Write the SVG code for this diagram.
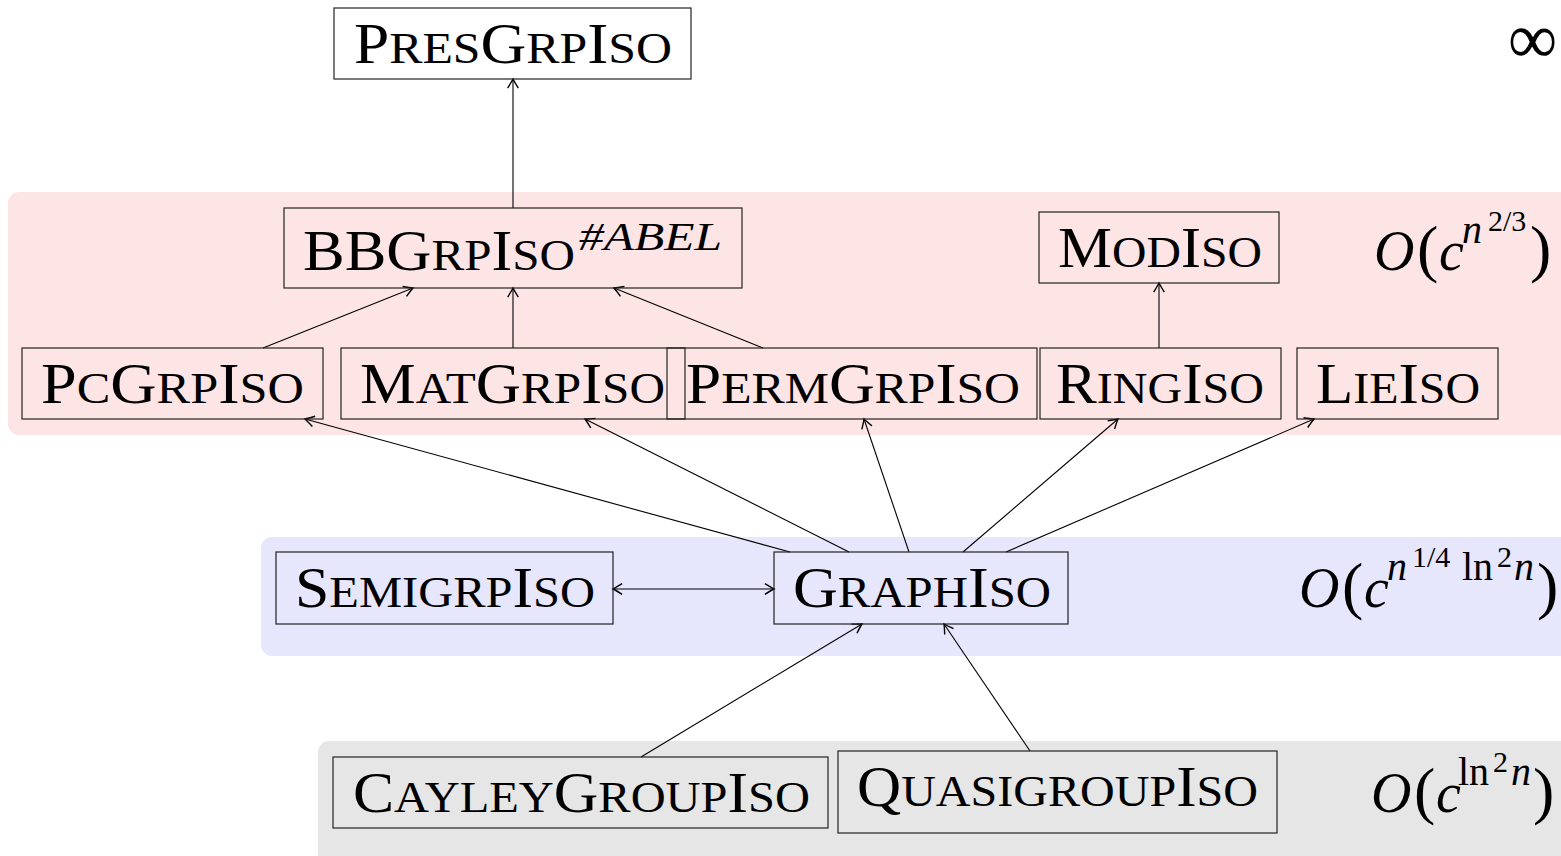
<svg xmlns="http://www.w3.org/2000/svg" width="1561" height="856" viewBox="0 0 1561 856">
<style>
.box{fill:none;stroke:#222;stroke-width:1.2}
.lbl{font-family:"Liberation Serif","DejaVu Serif",serif;font-size:56px;font-variant:small-caps;fill:#000}
.s{font-size:63px}
.m{font-family:"Liberation Serif","DejaVu Serif",serif;fill:#000}
.it{font-style:italic}
.edge{stroke:#000;stroke-width:1.1;fill:none}
</style>
<defs>
<marker id="to" markerUnits="userSpaceOnUse" markerWidth="14" markerHeight="14" viewBox="-8 -5 10 10" refX="0" refY="0" orient="auto-start-reverse">
<path d="M -6.5 -3.8 Q -2 -1 0 0 Q -2 1 -6.5 3.8" fill="none" stroke="#000" stroke-width="1"/>
</marker>
</defs>
<g id="bands">
<rect x="8" y="192" width="1600" height="243" rx="11" fill="#fde5e6"/>
<rect x="261" y="537" width="1400" height="119" rx="11" fill="#e6e6fc"/>
<rect x="318" y="741" width="1400" height="140" rx="11" fill="#e6e6e6"/>
</g>
<g id="connectors">
<line class="edge" x1="513" y1="208" x2="513" y2="79" marker-end="url(#to)"/>
<line class="edge" x1="263" y1="348" x2="413" y2="288" marker-end="url(#to)"/>
<line class="edge" x1="513" y1="348" x2="513" y2="288" marker-end="url(#to)"/>
<line class="edge" x1="763" y1="348" x2="614" y2="288" marker-end="url(#to)"/>
<line class="edge" x1="1159" y1="348" x2="1159" y2="283" marker-end="url(#to)"/>
<line class="edge" x1="790" y1="552" x2="305" y2="419" marker-end="url(#to)"/>
<line class="edge" x1="849" y1="552" x2="585" y2="419" marker-end="url(#to)"/>
<line class="edge" x1="909" y1="552" x2="864" y2="419" marker-end="url(#to)"/>
<line class="edge" x1="963" y1="552" x2="1118" y2="419" marker-end="url(#to)"/>
<line class="edge" x1="1006" y1="552" x2="1314" y2="419" marker-end="url(#to)"/>
<line class="edge" x1="613" y1="589" x2="774" y2="589" marker-start="url(#to)" marker-end="url(#to)"/>
<line class="edge" x1="641" y1="757" x2="862" y2="624" marker-end="url(#to)"/>
<line class="edge" x1="1030" y1="751" x2="944" y2="624" marker-end="url(#to)"/>
</g>
<g id="PresGrpIso">
<rect class="box" x="334" y="8" width="357" height="71"/>
<text class="lbl" x="354" y="63" textLength="318" lengthAdjust="spacingAndGlyphs">P<tspan class="s">res</tspan>G<tspan class="s">rp</tspan>I<tspan class="s">so</tspan></text>
</g>
<g id="BBGrpIso">
<rect class="box" x="284" y="208" width="458" height="80"/>
<text class="lbl" x="303" y="270" textLength="272" lengthAdjust="spacingAndGlyphs">BBG<tspan class="s">rp</tspan>I<tspan class="s">so</tspan></text>
<text class="m it" x="579" y="250" font-size="40" textLength="143" lengthAdjust="spacingAndGlyphs">#ABEL</text>
</g>
<g id="ModIso">
<rect class="box" x="1039" y="212" width="240" height="71"/>
<text class="lbl" x="1058" y="267" textLength="204" lengthAdjust="spacingAndGlyphs">M<tspan class="s">od</tspan>I<tspan class="s">so</tspan></text>
</g>
<g id="PcGrpIso">
<rect class="box" x="22" y="348" width="301" height="71"/>
<text class="lbl" x="41" y="403" textLength="263" lengthAdjust="spacingAndGlyphs">P<tspan class="s">c</tspan>G<tspan class="s">rp</tspan>I<tspan class="s">so</tspan></text>
</g>
<g id="MatGrpIso">
<rect class="box" x="341" y="348" width="344" height="71"/>
<text class="lbl" x="360" y="403" textLength="305" lengthAdjust="spacingAndGlyphs">M<tspan class="s">at</tspan>G<tspan class="s">rp</tspan>I<tspan class="s">so</tspan></text>
</g>
<g id="PermGrpIso">
<rect class="box" x="667" y="348" width="370" height="71"/>
<text class="lbl" x="686" y="403" textLength="334" lengthAdjust="spacingAndGlyphs">P<tspan class="s">erm</tspan>G<tspan class="s">rp</tspan>I<tspan class="s">so</tspan></text>
</g>
<g id="RingIso">
<rect class="box" x="1040" y="348" width="241" height="71"/>
<text class="lbl" x="1056" y="403" textLength="208" lengthAdjust="spacingAndGlyphs">R<tspan class="s">ing</tspan>I<tspan class="s">so</tspan></text>
</g>
<g id="LieIso">
<rect class="box" x="1297" y="348" width="201" height="71"/>
<text class="lbl" x="1316" y="403" textLength="164" lengthAdjust="spacingAndGlyphs">L<tspan class="s">ie</tspan>I<tspan class="s">so</tspan></text>
</g>
<g id="SemigrpIso">
<rect class="box" x="276" y="552" width="337" height="72"/>
<text class="lbl" x="295" y="607" textLength="300" lengthAdjust="spacingAndGlyphs">S<tspan class="s">emigrp</tspan>I<tspan class="s">so</tspan></text>
</g>
<g id="GraphIso">
<rect class="box" x="774" y="552" width="294" height="72"/>
<text class="lbl" x="793" y="607" textLength="258" lengthAdjust="spacingAndGlyphs">G<tspan class="s">raph</tspan>I<tspan class="s">so</tspan></text>
</g>
<g id="CayleyGroupIso">
<rect class="box" x="333" y="757" width="495" height="71"/>
<text class="lbl" x="353" y="812" textLength="457" lengthAdjust="spacingAndGlyphs">C<tspan class="s">ayley</tspan>G<tspan class="s">roup</tspan>I<tspan class="s">so</tspan></text>
</g>
<g id="QuasigroupIso">
<rect class="box" x="838" y="751" width="439" height="82"/>
<text class="lbl" x="857" y="806" textLength="401" lengthAdjust="spacingAndGlyphs">Q<tspan class="s">uasigroup</tspan>I<tspan class="s">so</tspan></text>
</g>
<g id="labels">
<text class="m" x="1508" y="63" font-size="72" textLength="49" lengthAdjust="spacingAndGlyphs">∞</text>
<text class="m" font-size="56" y="270"><tspan class="it" x="1374">O</tspan><tspan x="1417" font-size="64">(</tspan><tspan class="it" x="1439">c</tspan><tspan class="it" x="1462" y="243" font-size="40">n</tspan><tspan x="1488" y="231" font-size="30">2/3</tspan><tspan x="1530" y="270" font-size="64">)</tspan></text>
<text class="m" font-size="56" y="607"><tspan class="it" x="1299">O</tspan><tspan x="1342" font-size="64">(</tspan><tspan class="it" x="1364">c</tspan><tspan class="it" x="1387" y="580" font-size="40">n</tspan><tspan x="1412" y="567" font-size="30">1/4</tspan><tspan x="1462" y="580" font-size="40">ln</tspan><tspan x="1497" y="567" font-size="30">2</tspan><tspan class="it" x="1514" y="580" font-size="40">n</tspan><tspan x="1537" y="607" font-size="64">)</tspan></text>
<text class="m" font-size="56" y="812"><tspan class="it" x="1371">O</tspan><tspan x="1414" font-size="64">(</tspan><tspan class="it" x="1436">c</tspan><tspan x="1458" y="785" font-size="40">ln</tspan><tspan x="1493" y="772" font-size="30">2</tspan><tspan class="it" x="1511" y="785" font-size="40">n</tspan><tspan x="1533" y="812" font-size="64">)</tspan></text>
</g>
</svg>
